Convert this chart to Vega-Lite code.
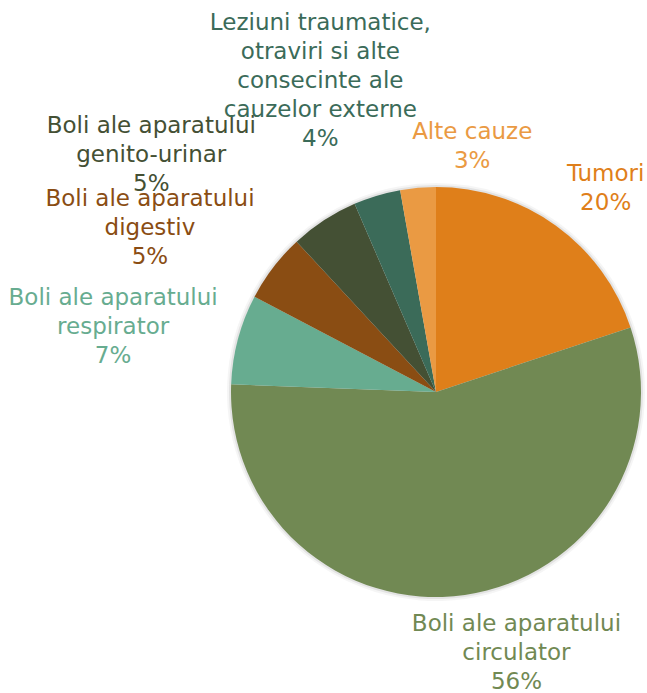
{
  "$schema": "https://vega.github.io/schema/vega-lite/v6.json",
  "autosize": {"type": "none"},
  "width": 410,
  "height": 410,
  "padding": {"left": 231, "top": 187, "right": 6, "bottom": 96},
  "background": "white",
  "config": {"view": {"stroke": null}},
  "data": {
    "values": [
      {"k": 1, "cause": "Tumori", "v": 19.9, "label": "Tumori\n20%"},
      {"k": 2, "cause": "Boli ale aparatului circulator", "v": 55.7, "label": "Boli ale aparatului\ncirculator\n56%"},
      {"k": 3, "cause": "Boli ale aparatului respirator", "v": 7.1, "label": "Boli ale aparatului\nrespirator\n7%"},
      {"k": 4, "cause": "Boli ale aparatului digestiv", "v": 5.4, "label": "Boli ale aparatului\ndigestiv\n5%"},
      {"k": 5, "cause": "Boli ale aparatului genito-urinar", "v": 5.4, "label": "Boli ale aparatului\ngenito-urinar\n5%"},
      {"k": 6, "cause": "Leziuni traumatice, otraviri si alte consecinte ale cauzelor externe", "v": 3.7, "label": "Leziuni traumatice,\notraviri si alte\nconsecinte ale\ncauzelor externe\n4%"},
      {"k": 7, "cause": "Alte cauze", "v": 2.8, "label": "Alte cauze\n3%"}
    ]
  },
  "encoding": {
    "theta": {"field": "v", "type": "quantitative", "stack": true},
    "order": {"field": "k", "type": "quantitative"},
    "color": {
      "field": "cause",
      "type": "nominal",
      "legend": null,
      "scale": {
        "domain": ["Tumori", "Boli ale aparatului circulator", "Boli ale aparatului respirator", "Boli ale aparatului digestiv", "Boli ale aparatului genito-urinar", "Leziuni traumatice, otraviri si alte consecinte ale cauzelor externe", "Alte cauze"],
        "range": ["#DF7F1A", "#718953", "#67AC90", "#8A4D13", "#445034", "#3B6B59", "#EA9A43"]
      }
    }
  },
  "layer": [
    {"mark": {"type": "arc", "radius": 209, "opacity": 0.04}, "encoding": {"color": {"value": "#000000"}, "detail": {"field": "cause"}}},
    {"mark": {"type": "arc", "radius": 207, "opacity": 0.07}, "encoding": {"color": {"value": "#000000"}, "detail": {"field": "cause"}}},
    {"mark": {"type": "arc"}},
    {
      "mark": {"type": "text", "radius": 266, "dx": 14, "dy": -2.5, "font": "DejaVu Sans", "fontSize": 23, "lineBreak": "\n", "lineHeight": 29, "align": "center", "baseline": "middle"},
      "encoding": {"text": {"condition": {"test": "datum.k === 1", "field": "label"}, "value": ""}}
    },
    {
      "mark": {"type": "text", "radius": 273, "dx": 42, "dy": -38, "font": "DejaVu Sans", "fontSize": 23, "lineBreak": "\n", "lineHeight": 29, "align": "center", "baseline": "middle"},
      "encoding": {"text": {"condition": {"test": "datum.k === 2", "field": "label"}, "value": ""}}
    },
    {
      "mark": {"type": "text", "radius": 329, "dx": -5, "dy": -9, "font": "DejaVu Sans", "fontSize": 23, "lineBreak": "\n", "lineHeight": 29, "align": "center", "baseline": "middle"},
      "encoding": {"text": {"condition": {"test": "datum.k === 3", "field": "label"}, "value": ""}}
    },
    {
      "mark": {"type": "text", "radius": 330, "dx": -24, "dy": 8, "font": "DejaVu Sans", "fontSize": 23, "lineBreak": "\n", "lineHeight": 29, "align": "center", "baseline": "middle"},
      "encoding": {"text": {"condition": {"test": "datum.k === 4", "field": "label"}, "value": ""}}
    },
    {
      "mark": {"type": "text", "radius": 371, "dx": -82, "dy": 45, "font": "DejaVu Sans", "fontSize": 23, "lineBreak": "\n", "lineHeight": 29, "align": "center", "baseline": "middle"},
      "encoding": {"text": {"condition": {"test": "datum.k === 5", "field": "label"}, "value": ""}}
    },
    {
      "mark": {"type": "text", "radius": 332, "dx": -20, "dy": -51, "font": "DejaVu Sans", "fontSize": 23, "lineBreak": "\n", "lineHeight": 29, "align": "center", "baseline": "middle"},
      "encoding": {"text": {"condition": {"test": "datum.k === 6", "field": "label"}, "value": ""}}
    },
    {
      "mark": {"type": "text", "radius": 248, "dx": 58, "dy": -12.5, "font": "DejaVu Sans", "fontSize": 23, "lineBreak": "\n", "lineHeight": 29, "align": "center", "baseline": "middle"},
      "encoding": {"text": {"condition": {"test": "datum.k === 7", "field": "label"}, "value": ""}}
    }
  ]
}
